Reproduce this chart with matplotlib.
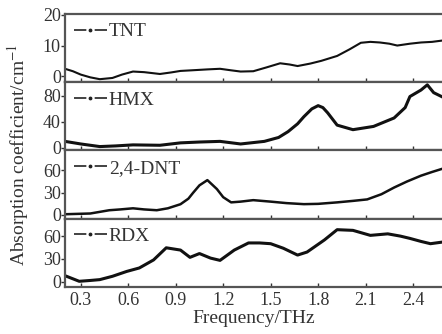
import matplotlib
matplotlib.use("Agg")
from matplotlib import pyplot as plt
from matplotlib.lines import Line2D

plt.rcParams['font.family'] = ['Liberation Serif', 'DejaVu Serif']
plt.rcParams['mathtext.fontset'] = 'stix'

# TNT
tnt_f = [0.20, 0.25, 0.30, 0.36, 0.42, 0.50, 0.56, 0.63, 0.70, 0.80, 0.87, 0.93, 1.00,
         1.10, 1.18, 1.25, 1.31, 1.39, 1.47, 1.56, 1.62, 1.67, 1.75, 1.82, 1.92, 2.00,
         2.07, 2.13, 2.19, 2.25, 2.30, 2.38, 2.45, 2.52, 2.58]
tnt_a = [2.4, 1.6, 0.5, -0.4, -1.0, -0.6, 0.5, 1.5, 1.3, 0.7, 1.2, 1.7, 1.9,
         2.2, 2.4, 1.9, 1.5, 1.6, 2.8, 4.2, 3.8, 3.3, 4.1, 5.0, 6.6, 8.8,
         10.9, 11.2, 11.0, 10.6, 10.0, 10.6, 11.0, 11.2, 11.6]

# HMX
hmx_f = [0.20, 0.30, 0.42, 0.52, 0.63, 0.80, 0.93, 1.05, 1.18, 1.31, 1.46, 1.55, 1.61,
         1.67, 1.71, 1.76, 1.80, 1.83, 1.86, 1.92, 2.02, 2.15, 2.28, 2.35, 2.38, 2.45,
         2.49, 2.53, 2.58]
hmx_a = [10, 6, 2, 3, 4.6, 4, 7.7, 9, 10, 6, 10, 16, 25,
         37, 48, 60, 65, 62, 54, 35, 28, 33, 46, 62, 79, 89,
         97, 85, 79]

# 2,4-DNT
dnt_f = [0.20, 0.28, 0.36, 0.48, 0.55, 0.63, 0.70, 0.78, 0.85, 0.93, 0.98, 1.01, 1.05,
         1.10, 1.16, 1.20, 1.25, 1.31, 1.39, 1.50, 1.60, 1.71, 1.80, 1.92, 2.02, 2.11,
         2.20, 2.28, 2.36, 2.45, 2.52, 2.58]
dnt_a = [1, 1.5, 2, 6.4, 7.5, 9, 7.5, 6.4, 9, 14.5, 22, 30, 40,
         47, 35, 24, 17, 18, 20, 18, 16, 14.6, 15, 17, 19, 21,
         28, 37, 45, 53, 58, 62]

# RDX
rdx_f = [0.20, 0.29, 0.36, 0.42, 0.50, 0.59, 0.67, 0.76, 0.84, 0.93, 0.99, 1.05, 1.12,
         1.18, 1.27, 1.36, 1.43, 1.50, 1.58, 1.67, 1.73, 1.84, 1.92, 2.02, 2.13, 2.24,
         2.32, 2.38, 2.45, 2.51, 2.58]
rdx_a = [7.8, 0.4, 1.5, 2.6, 7, 13.4, 18, 28.6, 44.6, 41.6, 32, 37, 31,
         28, 41.6, 51, 51, 50, 44, 35, 39, 55, 68.5, 67.6, 61, 63,
         60, 57, 53, 50, 52]

series = [
    ("TNT", tnt_f, tnt_a, [0, 10, 20], (-2, 20.3), 1.5),
    ("HMX", hmx_f, hmx_a, [0, 40, 80], (-4, 101), 2.2),
    ("2,4-DNT", dnt_f, dnt_a, [0, 30, 60], (-5, 87), 1.8),
    ("RDX", rdx_f, rdx_a, [0, 30, 60], (-7, 83), 2.2),
]
freq_ticks = [0.3, 0.6, 0.9, 1.2, 1.5, 1.8, 2.1, 2.4]

fig, axes = plt.subplots(4, 1, sharex=True, figsize=(4.42, 3.34), dpi=100)
fig.subplots_adjust(left=0.147, right=0.999, bottom=0.141, top=0.958, hspace=0)

grey = '#555555'
txt = '#333333'
for ax, (name, f, a, yt, yl, lw) in zip(axes, series):
    ax.plot(f, a, color='#111111', lw=lw)
    ax.set_ylim(*yl)
    ax.set_yticks(yt)
    ax.set_xlim(0.2, 2.58)
    ax.set_xticks(freq_ticks)
    ax.tick_params(axis='y', direction='out', length=3, width=1, colors=txt,
                   labelsize=13, pad=0)
    ax.tick_params(axis='x', direction='in', length=3, width=1, colors=txt,
                   labelsize=13)
    for s in ['top', 'bottom', 'left']:
        ax.spines[s].set_color(grey)
        ax.spines[s].set_linewidth(1.6)
    ax.spines['right'].set_visible(False)
    # legend key drawn as dash - dot - dash
    handle = Line2D([], [], color='#222222', lw=1.2, ls=(0, (7.4, 5.0)),
                    marker='.', ms=3.5)
    leg = ax.legend([handle], [name], loc='upper left', frameon=False, fontsize=14,
                    handlelength=1.7, handletextpad=0.1, borderaxespad=0.1,
                    borderpad=0.35)
    for t in leg.get_texts():
        t.set_color(txt)

axes[-1].set_xticklabels(['0.3', '0.6', '0.9', '1.2', '1.5', '1.8', '2.1', '2.4'])
axes[-1].set_xlabel('Frequency/THz', fontsize=14, color=txt, labelpad=1)
fig.text(0.04, 0.536, r'Absorption coefficient/cm$^{-1}$', rotation=90,
         ha='center', va='center', fontsize=14, color=txt)

fig.savefig('out.png', dpi=100)
